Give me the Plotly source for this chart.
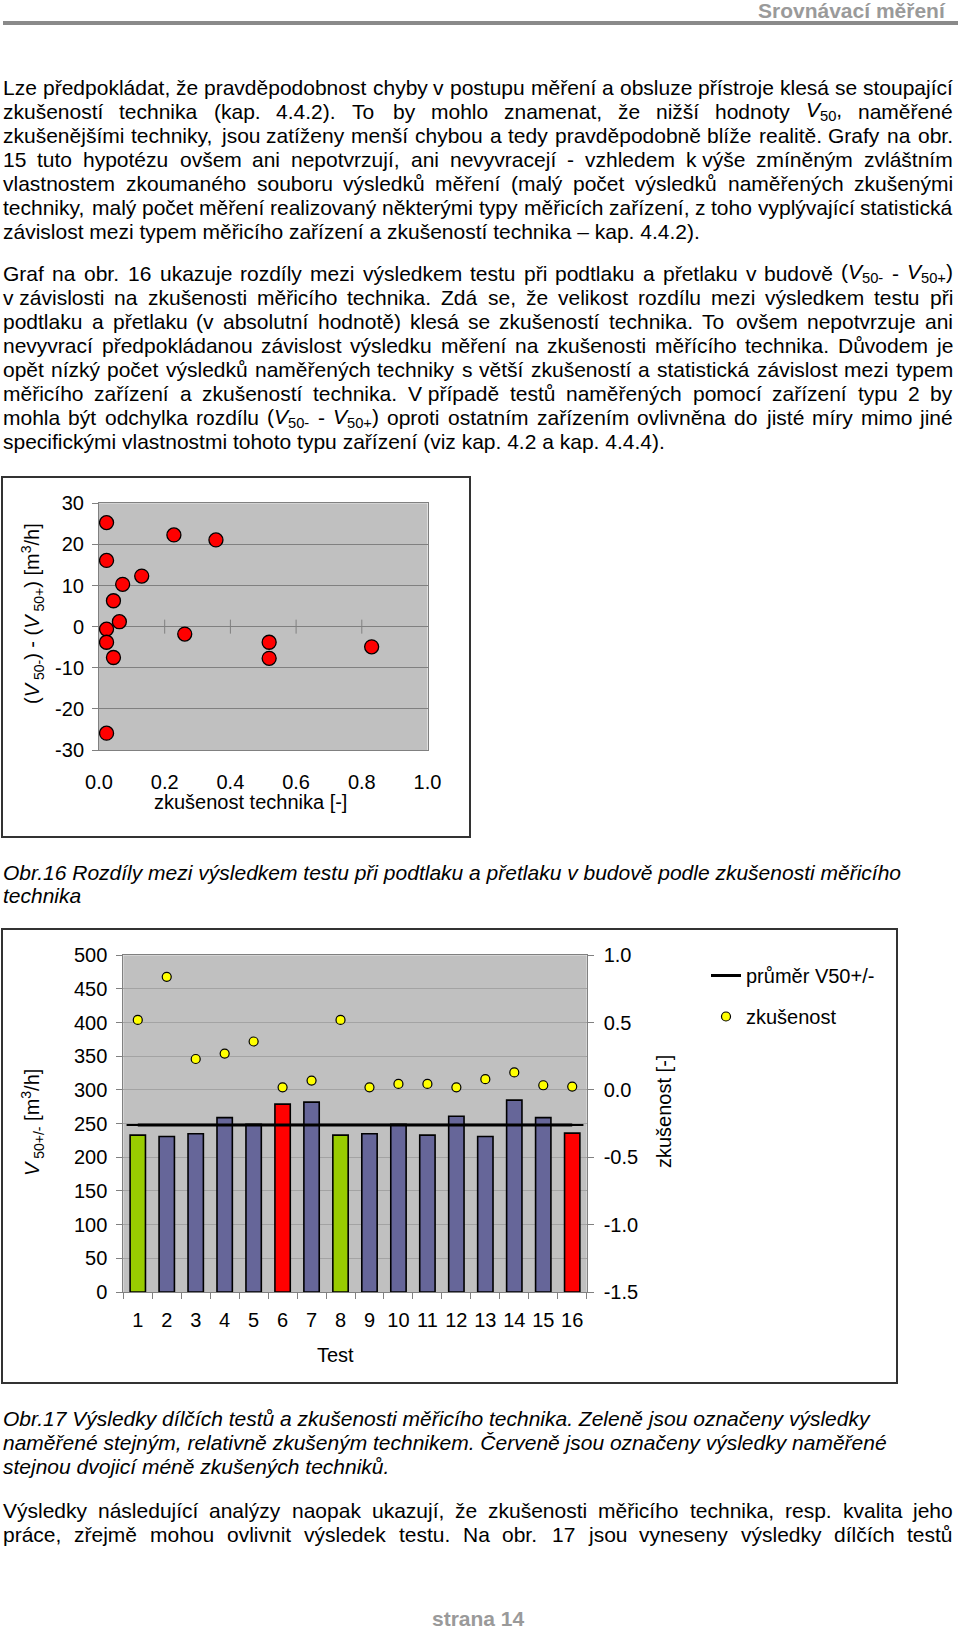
import re
import unicodedata
import plotly.graph_objects as go

W, H = 960, 1630
FONT = "Liberation Sans, Arial, sans-serif"

# ---------------- data: Obr.16 (scatter) ----------------
exp_tech = [0.023, 0.023, 0.228, 0.356, 0.130, 0.072, 0.044, 0.062,
            0.023, 0.023, 0.044, 0.261, 0.518, 0.518, 0.023, 0.830]
diff_v50 = [25.3, 16.1, 22.3, 21.1, 12.3, 10.3, 6.3, 1.2,
            -0.6, -3.8, -7.5, -1.8, -3.8, -7.7, -25.9, -4.9]
x16_tickvals = [0.0, 0.2, 0.4, 0.6, 0.8, 1.0]
x16_ticktext = ["0.0", "0.2", "0.4", "0.6", "0.8", "1.0"]
y16_tickvals = [-30, -20, -10, 0, 10, 20, 30]
y16_ticktext = ["-30", "-20", "-10", "0", "10", "20", "30"]

# ---------------- data: Obr.17 (bars + experience) ----------------
tests = ["1", "2", "3", "4", "5", "6", "7", "8",
         "9", "10", "11", "12", "13", "14", "15", "16"]
v50 = [233, 231, 235, 259, 249, 279, 282, 233,
       235, 249, 233, 261, 231, 285, 259, 236]
v50_avg = [248, 248, 248, 248, 248, 248, 248, 248,
           248, 248, 248, 248, 248, 248, 248, 248]
experience = [0.52, 0.84, 0.23, 0.27, 0.36, 0.02, 0.07, 0.52,
              0.02, 0.045, 0.045, 0.02, 0.08, 0.13, 0.035, 0.025]
y17_tickvals = [0, 50, 100, 150, 200, 250, 300, 350, 400, 450, 500]
y17r_tickvals = [-1.5, -1.0, -0.5, 0.0, 0.5, 1.0]
y17r_ticktext = ["-1.5", "-1.0", "-0.5", "0.0", "0.5", "1.0"]

GREEN, BLUE, RED = "#99CC00", "#666699", "#FF0000"
bar_colors = [GREEN, BLUE, BLUE, BLUE, BLUE, RED, BLUE, GREEN,
              BLUE, BLUE, BLUE, BLUE, BLUE, BLUE, BLUE, RED]

# ---------------- text ----------------
header = "Srovnávací měření"
footer = "strana 14"
para1 = [
    "Lze předpokládat, že pravděpodobnost chyby v postupu měření a obsluze přístroje klesá se stoupající",
    "zkušeností technika (kap. 4.4.2). To by mohlo znamenat, že nižší hodnoty <i>V</i><sub>50</sub>, naměřené",
    "zkušenějšími techniky, jsou zatíženy menší chybou a tedy pravděpodobně blíže realitě. Grafy na obr.",
    "15 tuto hypotézu ovšem ani nepotvrzují, ani nevyvracejí - vzhledem k\u00a0výše zmíněným zvláštním",
    "vlastnostem zkoumaného souboru výsledků měření (malý počet výsledků naměřených zkušenými",
    "techniky, malý počet měření realizovaný některými typy měřicích zařízení, z toho vyplývající statistická",
    "závislost mezi typem měřicího zařízení a zkušeností technika – kap. 4.4.2).",
]
para2 = [
    "Graf na obr. 16 ukazuje rozdíly mezi výsledkem testu při podtlaku a přetlaku v budově (<i>V</i><sub>50-</sub> - <i>V</i><sub>50+</sub>)",
    "v\u00a0závislosti na zkušenosti měřicího technika. Zdá se, že velikost rozdílu mezi výsledkem testu při",
    "podtlaku a přetlaku (v absolutní hodnotě) klesá se zkušeností technika. To ovšem nepotvrzuje ani",
    "nevyvrací předpokládanou závislost výsledku měření na zkušenosti měřícího technika. Důvodem je",
    "opět nízký počet výsledků naměřených techniky s větší zkušeností a statistická závislost mezi typem",
    "měřicího zařízení a zkušeností technika. V\u00a0případě testů naměřených pomocí zařízení typu 2 by",
    "mohla být odchylka rozdílu (<i>V</i><sub>50-</sub> - <i>V</i><sub>50+</sub>) oproti ostatním zařízením ovlivněna do jisté míry mimo jiné",
    "specifickými vlastnostmi tohoto typu zařízení (viz kap. 4.2 a kap. 4.4.4).",
]
caption16 = [
    "Obr.16 Rozdíly mezi výsledkem testu při podtlaku a přetlaku v budově podle zkušenosti měřicího",
    "technika",
]
caption17 = [
    "Obr.17 Výsledky dílčích testů a zkušenosti měřicího technika. Zeleně jsou označeny výsledky",
    "naměřené stejným, relativně zkušeným technikem. Červeně jsou označeny výsledky naměřené",
    "stejnou dvojicí méně zkušených techniků.",
]
para3 = [
    "Výsledky následující analýzy naopak ukazují, že zkušenosti měřicího technika, resp. kvalita jeho",
    "práce, zřejmě mohou ovlivnit výsledek testu. Na obr. 17 jsou vyneseny výsledky dílčích testů",
]


def px(x):
    return x / W


def py(y):
    return 1 - y / H


# Arial / Liberation Sans advance widths (per 1000 em)
AW = {' ': 278, '\u00a0': 278, '(': 333, ')': 333, '+': 584, ',': 278, '-': 333, '.': 278,
      '/': 278, ':': 278, ';': 278, '[': 278, ']': 278, '–': 556,
      'A': 667, 'B': 667, 'C': 722, 'D': 722, 'E': 667, 'F': 611, 'G': 778, 'H': 722,
      'I': 278, 'J': 500, 'K': 667, 'L': 556, 'M': 833, 'N': 722, 'O': 778, 'P': 667,
      'Q': 778, 'R': 722, 'S': 667, 'T': 611, 'U': 722, 'V': 667, 'W': 944, 'X': 667,
      'Y': 667, 'Z': 611,
      'a': 556, 'b': 556, 'c': 500, 'd': 556, 'e': 556, 'f': 278, 'g': 556, 'h': 556,
      'i': 222, 'j': 222, 'k': 500, 'l': 222, 'm': 833, 'n': 556, 'o': 556, 'p': 556,
      'q': 556, 'r': 333, 's': 500, 't': 278, 'u': 556, 'v': 500, 'w': 722, 'x': 500,
      'y': 500, 'z': 500, 'í': 278, 'ď': 615, 'ť': 375}
for d in "0123456789":
    AW[d] = 556


def char_w(c):
    if c in AW:
        return AW[c]
    base = unicodedata.normalize('NFD', c)[0]
    return AW.get(base, 556)


def text_w(s, fs):
    total, scale = 0.0, 1.0
    for part in re.split(r'(<[^>]+>)', s):
        if part.startswith('<'):
            tag = part.strip('<>/ ').lower()
            if tag in ('sub', 'sup'):
                scale = 1.0 if part.startswith('</') else 0.7
            continue
        for c in part:
            total += char_w(c) * scale
    return total * fs / 1000.0


annots = []


def add_text(x, y, text, size=21, anchor='left', color='black', angle=0, vanchor='middle'):
    annots.append(dict(xref='paper', yref='paper', x=px(x), y=py(y), text=text,
                       showarrow=False, xanchor=anchor, yanchor=vanchor, textangle=angle,
                       borderpad=0, borderwidth=0,
                       font=dict(family=FONT, size=size, color=color)))


def add_line(y, line, justify, L=3, R=953, size=21, italic=False):
    line_html = "<i>" + line + "</i>" if italic else line
    if not justify:
        add_text(L, y, line_html, size=size)
        return
    words = line.split(' ')
    ws = [text_w(w, size) for w in words]
    gap = (R - L - sum(ws)) / (len(words) - 1)
    x = L
    for i, w in enumerate(words):
        wt = "<i>" + w + "</i>" if italic else w
        if i == len(words) - 1:
            add_text(R, y, wt, size=size, anchor='right')
        else:
            add_text(x, y, wt, size=size)
        x += ws[i] + gap


def add_paragraph(lines, y0, step, last_justified=False, italic=False, justify=True):
    for k, ln in enumerate(lines):
        j = justify and (k < len(lines) - 1 or last_justified)
        add_line(y0 + k * step, ln, j, italic=italic)


add_text(946, 11, "<b>" + header + "</b>", size=21, anchor='right', color='#9a9a9a')
add_paragraph(para1, 87, 24.1)
add_paragraph(para2, 273, 24.1)
add_paragraph(caption16, 872, 23.5, italic=True, justify=False)
add_paragraph(caption17, 1418, 24, italic=True, justify=False)
add_paragraph(para3, 1510, 24.5, last_justified=True)
add_text(478, 1618, "<b>" + footer + "</b>", size=21, anchor='center', color='#9a9a9a')

# axis titles
add_text(250, 802, "zkušenost technika [-]", size=20, anchor='center')
add_text(32, 614, "(<i>V</i><sub> 50-</sub>) - (<i>V</i><sub> 50+</sub>) [m<sup>3</sup>/h]",
         size=20, anchor='center', angle=-90)
add_text(335, 1355, "Test", size=20, anchor='center')
add_text(32, 1123, "<i>V</i><sub> 50+/-</sub> [m<sup>3</sup>/h]", size=20, anchor='center', angle=-90)
add_text(664, 1112, "zkušenost [-]", size=20, anchor='center', angle=-90)

fig = go.Figure()

# ---- Obr.16 ----
fig.add_trace(go.Scatter(
    x=x16_tickvals[1:-1], y=[0] * (len(x16_tickvals) - 2), xaxis='x', yaxis='y',
    mode='markers', showlegend=False, hoverinfo='skip',
    marker=dict(symbol='line-ns', size=10, line=dict(width=1, color='#808080'))))
fig.add_trace(go.Scatter(
    x=exp_tech, y=diff_v50, xaxis='x', yaxis='y', mode='markers', showlegend=False,
    marker=dict(size=14, color='#FF0000', line=dict(width=1.3, color='black'))))

# ---- Obr.17 ----
fig.add_trace(go.Bar(
    x=tests, y=v50, xaxis='x2', yaxis='y2', showlegend=False,
    marker=dict(color=bar_colors, line=dict(width=1.6, color='black'))))
fig.add_trace(go.Scatter(
    x=tests, y=v50_avg, xaxis='x2', yaxis='y2', mode='lines+markers',
    name='průměr V50+/-', legendgroup='a',
    line=dict(color='black', width=3),
    marker=dict(symbol='line-ew', size=16, color='black', line=dict(width=2, color='black'))))
fig.add_trace(go.Scatter(
    x=tests, y=experience, xaxis='x2', yaxis='y3', mode='markers',
    name='zkušenost', legendgroup='b',
    marker=dict(size=9, color='#FFFF00', line=dict(width=1.2, color='black'))))

axis_font = dict(family=FONT, size=20, color='black')
GRID = '#808080'

shapes = [
    dict(type='line', xref='paper', yref='paper', x0=px(3), x1=px(958), y0=py(23), y1=py(23),
         line=dict(color='#8a8a8a', width=4)),
    dict(type='rect', xref='paper', yref='paper', x0=px(2), x1=px(470), y0=py(837), y1=py(477),
         line=dict(color='#333333', width=2)),
    dict(type='rect', xref='paper', yref='paper', x0=px(2), x1=px(897), y0=py(1383), y1=py(929),
         line=dict(color='#333333', width=2)),
]

fig.update_layout(
    width=W, height=H, autosize=False,
    margin=dict(l=0, r=0, t=0, b=0, pad=0, autoexpand=False),
    paper_bgcolor='white', plot_bgcolor='#C0C0C0',
    font=dict(family=FONT, size=20, color='black'),
    hovermode=False,
    bargap=0.47,
    xaxis=dict(domain=[px(99), px(427.5)], anchor='y', range=[0, 1], automargin=False,
               tickmode='array', tickvals=x16_tickvals, ticktext=x16_ticktext,
               showgrid=False, zeroline=False, showline=True, mirror=True,
               linecolor=GRID, linewidth=1, ticks='', ticklabelstandoff=14, tickangle=0,
               tickfont=axis_font, fixedrange=True),
    yaxis=dict(domain=[py(750), py(503.3)], anchor='x', range=[-30, 30], automargin=False,
               tickmode='array', tickvals=y16_tickvals, ticktext=y16_ticktext,
               showgrid=True, gridcolor=GRID, gridwidth=1,
               zeroline=True, zerolinecolor=GRID, zerolinewidth=1,
               showline=True, mirror=True, linecolor=GRID, linewidth=1,
               ticks='outside', ticklen=6, tickcolor=GRID, ticklabelstandoff=4,
               tickfont=axis_font, fixedrange=True),
    xaxis2=dict(domain=[px(123.3), px(586.7)], anchor='y2', type='category', automargin=False,
                categoryorder='array', categoryarray=tests, range=[-0.5, 15.5],
                tickson='boundaries', ticks='outside', ticklen=6, tickcolor=GRID,
                showline=True, mirror=True, linecolor=GRID, linewidth=1, tickangle=0,
                showgrid=False, ticklabelstandoff=10, tickfont=axis_font, fixedrange=True),
    yaxis2=dict(domain=[py(1292), py(955.3)], anchor='x2', range=[0, 500], automargin=False,
                tickmode='array', tickvals=y17_tickvals,
                showgrid=True, gridcolor='#a3a3a3', gridwidth=1, zeroline=False,
                showline=True, mirror=True, linecolor=GRID, linewidth=1,
                ticks='outside', ticklen=6, tickcolor=GRID, ticklabelstandoff=5,
                tickfont=axis_font, fixedrange=True),
    yaxis3=dict(overlaying='y2', anchor='x2', side='right', range=[-1.5, 1.0], automargin=False,
                tickmode='array', tickvals=y17r_tickvals, ticktext=y17r_ticktext,
                showgrid=False, zeroline=False, showline=True, linecolor=GRID, linewidth=1,
                ticks='outside', ticklen=6, tickcolor=GRID, ticklabelstandoff=6,
                tickfont=axis_font, fixedrange=True),
    showlegend=True,
    legend=dict(x=px(706), y=py(956), xanchor='left', yanchor='top',
                font=dict(family=FONT, size=20, color='black'),
                bgcolor='rgba(0,0,0,0)', borderwidth=0, tracegroupgap=12,
                traceorder='grouped'),
    annotations=annots,
    shapes=shapes,
)

fig.write_html("out.html", config={'displayModeBar': False, 'staticPlot': True},
               post_script="document.body.style.margin='0px';")
